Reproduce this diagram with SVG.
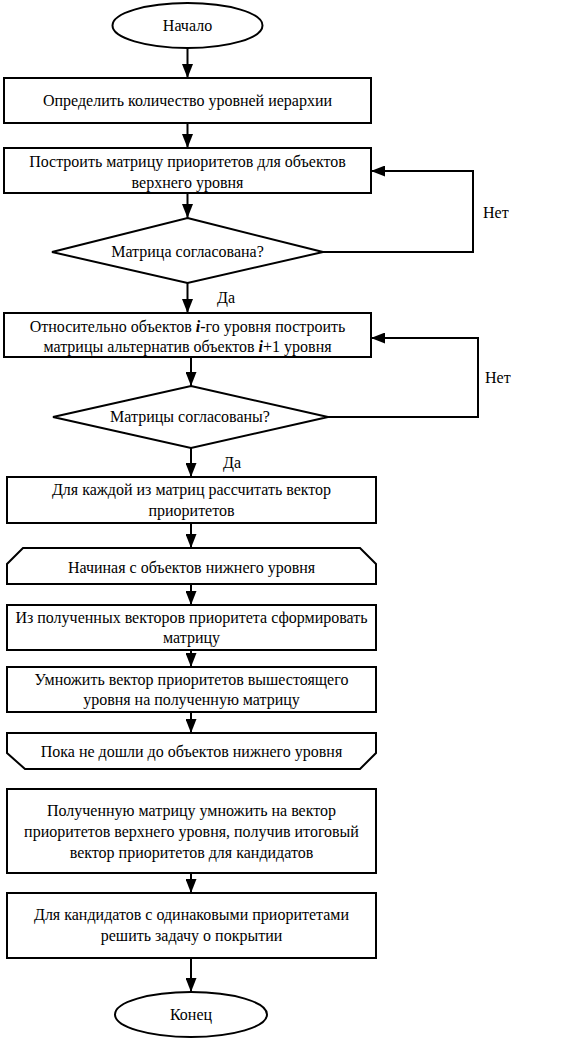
<svg xmlns="http://www.w3.org/2000/svg" width="573" height="1045" viewBox="0 0 573 1045">
<style>
.s{fill:#fff;stroke:#000;stroke-width:2}
.c{fill:none;stroke:#000;stroke-width:2}
text{font-family:'Liberation Serif','Times New Roman',serif;font-size:16px;fill:#000}
.m{text-anchor:middle}
.i{font-style:italic;font-weight:bold}
</style>
<defs>
<marker id="a" markerUnits="userSpaceOnUse" markerWidth="14" markerHeight="11" refX="14" refY="5.5" orient="auto">
<path d="M0,0 L14,5.5 L0,11 z" fill="#000"/>
</marker>
</defs>
<rect width="573" height="1045" fill="#fff"/>
<g id="connectors">
<line class="c" x1="187.5" y1="48" x2="187.5" y2="78" marker-end="url(#a)"/>
<line class="c" x1="187.5" y1="123" x2="187.5" y2="148" marker-end="url(#a)"/>
<line class="c" x1="187.5" y1="193" x2="187.5" y2="218" marker-end="url(#a)"/>
<polyline class="c" points="323,252 473,252 473,171 371,171" marker-end="url(#a)"/>
<line class="c" x1="187.5" y1="283" x2="187.5" y2="313" marker-end="url(#a)"/>
<line class="c" x1="191" y1="357" x2="191" y2="386" marker-end="url(#a)"/>
<polyline class="c" points="328,417 478,417 478,338 371,338" marker-end="url(#a)"/>
<line class="c" x1="191" y1="448" x2="191" y2="477" marker-end="url(#a)"/>
<line class="c" x1="191" y1="523" x2="191" y2="548" marker-end="url(#a)"/>
<line class="c" x1="191" y1="584" x2="191" y2="605" marker-end="url(#a)"/>
<line class="c" x1="191" y1="650" x2="191" y2="667" marker-end="url(#a)"/>
<line class="c" x1="191" y1="712" x2="191" y2="733" marker-end="url(#a)"/>
<line class="c" x1="191" y1="873" x2="191" y2="893" marker-end="url(#a)"/>
<line class="c" x1="191" y1="958" x2="191" y2="992" marker-end="url(#a)"/>
<text x="483" y="218">Нет</text>
<text x="485" y="383">Нет</text>
<text x="217" y="303">Да</text>
<text x="223" y="468">Да</text>
</g>
<g id="start">
<ellipse class="s" cx="187.5" cy="25.5" rx="75" ry="22.5"/>
<text class="m" x="187.5" y="31">Начало</text>
</g>
<g id="n1">
<rect class="s" x="4" y="78" width="367" height="45"/>
<text class="m" x="187.5" y="106">Определить количество уровней иерархии</text>
</g>
<g id="n2">
<rect class="s" x="4" y="148" width="367" height="45"/>
<text class="m" x="187.5" y="167">Построить матрицу приоритетов для объектов</text>
<text class="m" x="187.5" y="188">верхнего уровня</text>
</g>
<g id="d1">
<polygon class="s" points="187.5,218 323,252 187.5,283 52,252"/>
<text class="m" x="187.5" y="257">Матрица согласована?</text>
</g>
<g id="n3">
<rect class="s" x="4" y="313" width="367" height="44"/>
<text class="m" x="187.5" y="332">Относительно объектов <tspan class="i">i</tspan>-го уровня построить</text>
<text class="m" x="187.5" y="352">матрицы альтернатив объектов <tspan class="i">i</tspan>+1 уровня</text>
</g>
<g id="d2">
<polygon class="s" points="191,386 328,417 191,448 53,417"/>
<text class="m" x="190" y="422">Матрицы согласованы?</text>
</g>
<g id="n4">
<rect class="s" x="7" y="477" width="369" height="46"/>
<text class="m" x="191.5" y="495">Для каждой из матриц рассчитать вектор</text>
<text class="m" x="191.5" y="516">приоритетов</text>
</g>
<g id="loopstart">
<polygon class="s" points="23,548 360,548 376,564 376,584 7,584 7,564"/>
<text class="m" x="191.5" y="573">Начиная с объектов нижнего уровня</text>
</g>
<g id="n5">
<rect class="s" x="7" y="605" width="369" height="45"/>
<text class="m" x="191.5" y="623">Из полученных векторов приоритета сформировать</text>
<text class="m" x="191.5" y="643">матрицу</text>
</g>
<g id="n6">
<rect class="s" x="7" y="667" width="369" height="45"/>
<text class="m" x="191.5" y="685">Умножить вектор приоритетов вышестоящего</text>
<text class="m" x="191.5" y="705">уровня на полученную матрицу</text>
</g>
<g id="loopend">
<polygon class="s" points="7,733 376,733 376,753 360,769 25,769 7,753"/>
<text class="m" x="191.5" y="757">Пока не дошли до объектов нижнего уровня</text>
</g>
<g id="n7">
<rect class="s" x="7" y="789" width="369" height="84"/>
<text class="m" x="191.5" y="816">Полученную матрицу умножить на вектор</text>
<text class="m" x="191.5" y="837">приоритетов верхнего уровня, получив итоговый</text>
<text class="m" x="191.5" y="858">вектор приоритетов для кандидатов</text>
</g>
<g id="n8">
<rect class="s" x="7" y="893" width="369" height="65"/>
<text class="m" x="191.5" y="920">Для кандидатов с одинаковыми приоритетами</text>
<text class="m" x="191.5" y="941">решить задачу о покрытии</text>
</g>
<g id="end">
<ellipse class="s" cx="191" cy="1014.5" rx="76" ry="22.5"/>
<text class="m" x="191" y="1020">Конец</text>
</g>
</svg>
